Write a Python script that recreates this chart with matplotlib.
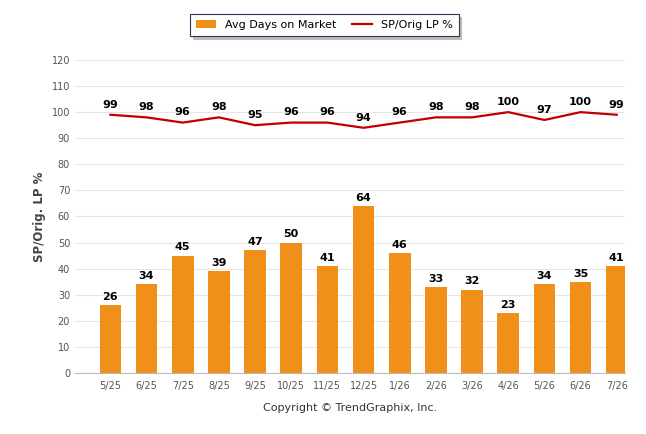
import matplotlib.pyplot as plt
import numpy as np

months = ["5/25", "6/25", "7/25", "8/25", "9/25", "10/25", "11/25", "12/25",
          "1/26", "2/26", "3/26", "4/26", "5/26", "6/26", "7/26"]
days = [26, 34, 45, 39, 47, 50, 41, 64, 46, 33, 32, 23, 34, 35, 41]
sp_pct = [99, 98, 96, 98, 95, 96, 96, 94, 96, 98, 98, 100, 97, 100, 99]

fig = plt.figure(figsize=(6.46, 4.34), dpi=100)
ax = fig.add_axes([0.116, 0.1406, 0.851, 0.7212])
x = np.arange(len(months))

bars = ax.bar(x, days, width=0.6, color="#F0901A", label="Avg Days on Market", zorder=2)
line, = ax.plot(x, sp_pct, color="#C00000", linewidth=1.6, label="SP/Orig LP %", zorder=3)

for i, v in enumerate(days):
    ax.text(i, v + 1.2, str(v), ha="center", va="bottom", fontsize=8, fontweight="bold")
for i, v in enumerate(sp_pct):
    ax.text(i, v + 2, str(v), ha="center", va="bottom", fontsize=8, fontweight="bold")

ax.set_ylim(0, 120)
ax.set_yticks(range(0, 121, 10))
ax.set_xlim(-0.98, 14.22)
ax.set_xticks(x)
ax.set_xticklabels(months)
ax.tick_params(axis="both", labelsize=7, colors="#555555", length=0)
ax.tick_params(axis="x", pad=6)
ax.grid(axis="y", color="#e6e6e6", linewidth=0.8, zorder=0)
for s in ["top", "right", "left"]:
    ax.spines[s].set_visible(False)
ax.spines["bottom"].set_color("#bbbbbb")
ax.set_ylabel("SP/Orig. LP %", fontsize=8.5, fontweight="bold", color="#444444")

leg = fig.legend(handles=[bars, line], loc="center", bbox_to_anchor=(0.502, 0.942),
                 ncol=2, fontsize=8, frameon=True, fancybox=False,
                 shadow={"color": "#bbbbbb", "alpha": 1},
                 handlelength=1.8, columnspacing=1.4, borderpad=0.55)
leg.get_frame().set_edgecolor("#333355")
leg.get_frame().set_linewidth(0.8)

fig.text(0.542, 0.052, "Copyright \u00a9 TrendGraphix, Inc.", ha="center", fontsize=8, color="#333333")

fig.savefig("out.png", dpi=100)
